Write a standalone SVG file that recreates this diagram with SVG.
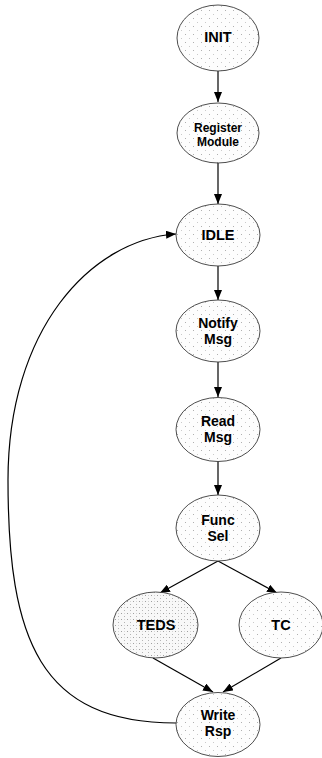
<svg xmlns="http://www.w3.org/2000/svg" width="322" height="758" viewBox="0 0 322 758">
<style>
.node ellipse{stroke:#3a3a3a;stroke-width:0.9;fill:url(#dots)}
.node text{font-family:"Liberation Sans",Arial,sans-serif;font-weight:bold;font-size:14.5px;fill:#000;text-anchor:middle}
.node text.two{font-size:14px}
.node text.small{font-size:12px}
.conn path,.conn line{stroke:#000;stroke-width:1.2;fill:none}
</style>
<defs>
<pattern id="dots" patternUnits="userSpaceOnUse" width="8" height="8">
<rect width="8" height="8" fill="#fdfdfd"/>
<rect x="1" y="2" width="1" height="1" fill="#b0b0b0"/>
<rect x="5" y="6" width="1" height="1" fill="#cacaca"/>
</pattern>
<pattern id="dots2" patternUnits="userSpaceOnUse" width="6" height="6">
<rect width="6" height="6" fill="#f8f8f8"/>
<rect x="1" y="1" width="1" height="1" fill="#a0a0a0"/>
<rect x="4" y="4" width="1" height="1" fill="#b4b4b4"/>
<rect x="4" y="1" width="1" height="1" fill="#d4d4d4"/>
</pattern>
<marker id="ah" viewBox="0 0 10 8" refX="10" refY="4" markerWidth="10" markerHeight="8" markerUnits="userSpaceOnUse" orient="auto">
<path d="M0,0 L10,4 L0,8 z" fill="#000"/>
</marker>
</defs>

<g class="conn" id="connectors">
<line x1="218" y1="71" x2="218" y2="102" marker-end="url(#ah)"/>
<line x1="218" y1="163" x2="218" y2="204" marker-end="url(#ah)"/>
<line x1="218" y1="266" x2="218" y2="300" marker-end="url(#ah)"/>
<line x1="218" y1="362" x2="218" y2="397" marker-end="url(#ah)"/>
<line x1="218" y1="461" x2="218" y2="495" marker-end="url(#ah)"/>
<line x1="218" y1="561" x2="160" y2="593" marker-end="url(#ah)"/>
<line x1="218" y1="561" x2="277" y2="593" marker-end="url(#ah)"/>
<line x1="153" y1="658" x2="213" y2="692" marker-end="url(#ah)"/>
<line x1="281" y1="658" x2="223" y2="692" marker-end="url(#ah)"/>
<path d="M176,723 C40,723 8,640 8,480 C8,330 90,240 176,234" marker-end="url(#ah)"/>
</g>

<g class="node" id="init">
<ellipse cx="218" cy="38" rx="41" ry="33"/>
<text x="218" y="42">INIT</text>
</g>
<g class="node" id="register">
<ellipse cx="218" cy="133" rx="41" ry="30"/>
<text class="small" x="218" y="131.5">Register</text>
<text class="small" x="218" y="146">Module</text>
</g>
<g class="node" id="idle">
<ellipse cx="218" cy="235" rx="42" ry="31"/>
<text x="218" y="240">IDLE</text>
</g>
<g class="node" id="notify">
<ellipse cx="218" cy="331" rx="42" ry="31"/>
<text class="two" x="218" y="328">Notify</text>
<text class="two" x="218" y="344">Msg</text>
</g>
<g class="node" id="read">
<ellipse cx="218" cy="429.5" rx="42" ry="32"/>
<text class="two" x="218" y="426">Read</text>
<text class="two" x="218" y="442">Msg</text>
</g>
<g class="node" id="func">
<ellipse cx="218" cy="528" rx="42" ry="33"/>
<text class="two" x="218" y="525">Func</text>
<text class="two" x="218" y="541">Sel</text>
</g>
<g class="node" id="teds">
<ellipse cx="155.5" cy="625" rx="42.5" ry="33" style="fill:url(#dots2)"/>
<text x="156" y="630">TEDS</text>
</g>
<g class="node" id="tc">
<ellipse cx="281" cy="625" rx="42" ry="33"/>
<text x="281" y="630">TC</text>
</g>
<g class="node" id="write">
<ellipse cx="218" cy="724.5" rx="42" ry="32"/>
<text class="two" x="218" y="720">Write</text>
<text class="two" x="218" y="736">Rsp</text>
</g>
</svg>
